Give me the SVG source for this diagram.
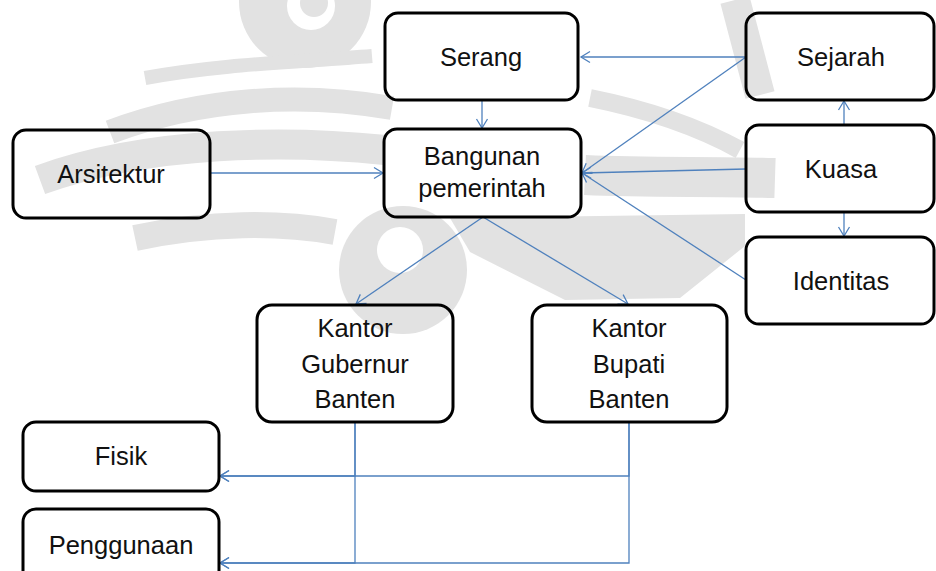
<svg xmlns="http://www.w3.org/2000/svg" width="936" height="571" viewBox="0 0 936 571">
  <defs>
    <marker id="arr" markerUnits="userSpaceOnUse" markerWidth="14" markerHeight="14" refX="0" refY="0" viewBox="-10 -7 12 14" orient="auto" overflow="visible">
      <path d="M -9 -5.5 L 0 0 L -9 5.5" fill="none" stroke="#4f81bd" stroke-width="1.3"/>
    </marker>
  </defs>
  <style>
    .box { fill: none; stroke: #000; stroke-width: 3; }
    .lbl { font-family: "Liberation Sans", Arial, sans-serif; font-size: 25.5px; fill: #111111; text-anchor: middle; }
    .con { fill: none; stroke: #4f81bd; stroke-width: 1.3; }
    .wm { fill: #e2e2e2; }
    .wms { fill: none; stroke: #e2e2e2; stroke-linecap: butt; }
  </style>
  <rect width="936" height="571" fill="#ffffff"/>
  <g id="watermark">
    <circle class="wm" cx="305" cy="2" r="66"/>
    <circle cx="311" cy="6" r="24" fill="#ffffff"/>
    <circle class="wm" cx="314" cy="3" r="14"/>
    <path class="wms" stroke-width="14" d="M 145 78 C 220 64 300 62 372 56"/>
    <path class="wms" stroke-width="24" d="M 110 132 C 200 98 300 92 392 108"/>
    <path class="wms" stroke-width="30" d="M 40 180 C 150 140 290 140 385 150"/>
    <path class="wms" stroke-width="26" d="M 135 238 C 210 222 280 222 335 232"/>
    <circle class="wm" cx="403" cy="270" r="64"/>
    <circle cx="400" cy="250" r="23" fill="#ffffff"/>
    <path class="wms" stroke-width="18" d="M 590 98 C 650 110 700 128 740 150"/>
    <path class="wms" stroke-width="40" d="M 585 175 C 650 178 710 176 775 178"/>
    <path class="wms" stroke-width="26" d="M 585 245 C 620 250 650 262 670 280"/>
    <path class="wm" d="M 450 218 L 745 214 L 745 246 L 680 298 L 565 300 L 470 252 Z"/>
    <path class="wms" stroke-width="30" d="M 735 0 L 760 95"/>
  </g>
  <g id="connectors">
    <line class="con" x1="746" y1="57" x2="581" y2="57" marker-end="url(#arr)"/>
    <line class="con" x1="746" y1="57" x2="582" y2="173" marker-end="url(#arr)"/>
    <line class="con" x1="746" y1="169" x2="582" y2="173" marker-end="url(#arr)"/>
    <line class="con" x1="746" y1="280" x2="582" y2="173" marker-end="url(#arr)"/>
    <line class="con" x1="844" y1="125" x2="844" y2="101" marker-end="url(#arr)"/>
    <line class="con" x1="844" y1="212" x2="844" y2="236" marker-end="url(#arr)"/>
    <line class="con" x1="482" y1="100" x2="482" y2="128" marker-end="url(#arr)"/>
    <line class="con" x1="210" y1="173" x2="383" y2="173" marker-end="url(#arr)"/>
    <line class="con" x1="483" y1="217" x2="356" y2="304" marker-end="url(#arr)"/>
    <line class="con" x1="483" y1="217" x2="628" y2="304" marker-end="url(#arr)"/>
    <polyline class="con" points="355,422 355,476 220,476" marker-end="url(#arr)"/>
    <polyline class="con" points="355,422 355,563 220,563" marker-end="url(#arr)"/>
    <polyline class="con" points="629,422 629,476 220,476" marker-end="url(#arr)"/>
    <polyline class="con" points="629,422 629,563 220,563" marker-end="url(#arr)"/>
  </g>
  <g id="serang">
    <rect class="box" x="385" y="13" width="193" height="87" rx="13"/>
    <text class="lbl" x="481" y="66">Serang</text>
  </g>
  <g id="sejarah">
    <rect class="box" x="746" y="13" width="188" height="87" rx="13"/>
    <text class="lbl" x="841" y="66">Sejarah</text>
  </g>
  <g id="kuasa">
    <rect class="box" x="746" y="125" width="188" height="87" rx="13"/>
    <text class="lbl" x="841" y="178">Kuasa</text>
  </g>
  <g id="identitas">
    <rect class="box" x="746" y="237" width="188" height="87" rx="13"/>
    <text class="lbl" x="841" y="290">Identitas</text>
  </g>
  <g id="bangunan">
    <rect class="box" x="384" y="129" width="197" height="88" rx="13"/>
    <text class="lbl" x="482" y="165">Bangunan</text>
    <text class="lbl" x="482" y="197">pemerintah</text>
  </g>
  <g id="arsitektur">
    <rect class="box" x="13" y="130" width="197" height="88" rx="13"/>
    <text class="lbl" x="111" y="183">Arsitektur</text>
  </g>
  <g id="gubernur">
    <rect class="box" x="257" y="305" width="196" height="117" rx="15"/>
    <text class="lbl" x="355" y="337">Kantor</text>
    <text class="lbl" x="355" y="373">Gubernur</text>
    <text class="lbl" x="355" y="408">Banten</text>
  </g>
  <g id="bupati">
    <rect class="box" x="532" y="305" width="195" height="117" rx="15"/>
    <text class="lbl" x="629" y="337">Kantor</text>
    <text class="lbl" x="629" y="373">Bupati</text>
    <text class="lbl" x="629" y="408">Banten</text>
  </g>
  <g id="fisik">
    <rect class="box" x="23" y="422" width="196" height="69" rx="13"/>
    <text class="lbl" x="121" y="465">Fisik</text>
  </g>
  <g id="penggunaan">
    <rect class="box" x="23" y="509" width="196" height="80" rx="13"/>
    <text class="lbl" x="121" y="554">Penggunaan</text>
  </g>
</svg>
